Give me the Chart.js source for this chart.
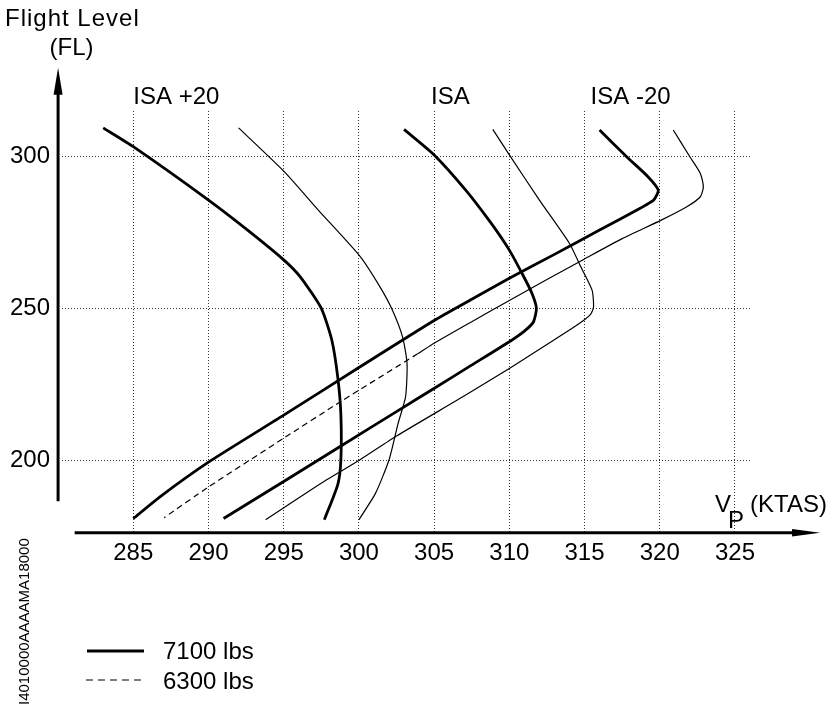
<!DOCTYPE html>
<html>
<head>
<meta charset="utf-8">
<script src="https://cdn.jsdelivr.net/npm/chart.js@4.4.1/dist/chart.umd.min.js"></script>
<style>
html,body{margin:0;padding:0;background:#ffffff;}
canvas{display:block;}
</style>
</head>
<body>
<canvas id="c" width="839" height="714"></canvas>
<script>
// ---------- DATA ----------
const xTicks = [285, 290, 295, 300, 305, 310, 315, 320, 325];
const yTicks = [200, 250, 300];

const tempLabels = ['ISA +20', 'ISA', 'ISA -20'];
const weightLabels = ['7100 lbs', '6300 lbs'];

// ISA +20
const isaP20_7100_kt = [283.0, 285.0, 290.0, 292.6, 295.0, 296.1, 297.5, 298.2, 298.6, 298.8, 298.8, 298.6, 297.7];
const isaP20_7100_fl = [309.5, 303.3, 285.7, 275.8, 266.0, 260.4, 250.0, 239.5, 227.0, 215.0, 200.0, 192.0, 180.3];
const isaP20_6300_kt = [292.0, 295.05, 297.3, 300.1, 301.4, 302.2, 302.9, 303.2, 303.1, 302.6, 302.0, 301.1, 300.0];
const isaP20_6300_fl = [309.5, 295.0, 282.4, 267.0, 257.1, 249.7, 240.6, 231.8, 220.8, 212.0, 200.0, 189.0, 180.3];

// ISA
const isa_7100_kt = [303.0, 305.0, 307.1, 308.8, 310.0, 310.9, 311.5, 311.8, 311.6, 311.0, 310.0, 307.3, 304.8, 302.9, 298.7, 295.0, 291.0];
const isa_7100_fl = [309.0, 300.6, 289.0, 278.0, 269.2, 261.0, 255.0, 250.0, 245.5, 242.5, 239.0, 230.7, 223.0, 217.2, 204.3, 192.9, 180.7];
const isa_6300_kt = [308.9, 310.0, 312.0, 314.0, 314.75, 315.5, 315.6, 315.4, 314.65, 312.6, 310.0, 307.1, 302.5, 300.05, 297.8, 293.8];
const isa_6300_fl = [309.0, 300.6, 285.7, 271.4, 263.7, 256.0, 250.5, 248.0, 245.0, 238.4, 230.2, 221.4, 207.9, 200.0, 193.3, 180.3];

// ISA -20
const isaM20_7100_kt = [316.0, 317.8, 319.2, 319.9, 319.6, 318.7, 316.0, 313.0, 310.0, 307.5, 305.0, 300.0, 295.0, 290.0, 286.75, 285.0];
const isaM20_7100_fl = [308.8, 300.0, 293.5, 289.0, 285.7, 283.0, 275.8, 267.8, 259.9, 253.0, 246.0, 230.5, 214.8, 199.3, 187.8, 180.7];
const isaM20_6300_kt = [320.9, 322.0, 322.7, 322.9, 322.7, 321.8, 320.1, 317.5, 315.0, 312.5, 310.0, 307.5, 305.0, 303.9, 298.8, 295.0, 290.0, 287.05];
const isaM20_6300_fl = [308.8, 300.0, 294.5, 290.1, 286.8, 283.5, 279.1, 273.0, 266.3, 259.5, 252.6, 245.6, 238.5, 235.0, 219.3, 207.2, 191.1, 181.0];

// ---------- BUILD ----------
const FONT = '"Liberation Sans", Arial, Helvetica, sans-serif';
const pts = (kt, fl) => kt.map((v, i) => ({ x: v, y: fl[i] }));
const THICK = 2.8, THIN = 1.2;
const DASH_FROM_FL = 235.05;

function curve(label, kt, fl, width, extra) {
  return Object.assign({
    label: label,
    data: pts(kt, fl),
    showLine: true,
    borderColor: '#000',
    backgroundColor: '#000',
    borderWidth: width,
    pointRadius: 0,
    tension: 0.2,
    fill: false,
    borderCapStyle: 'butt',
    borderJoinStyle: 'round'
  }, extra || {});
}

const datasets = [
  curve(tempLabels[0] + ' ' + weightLabels[0], isaP20_7100_kt, isaP20_7100_fl, THICK),
  curve(tempLabels[0] + ' ' + weightLabels[1], isaP20_6300_kt, isaP20_6300_fl, THIN),
  curve(tempLabels[1] + ' ' + weightLabels[0], isa_7100_kt, isa_7100_fl, THICK),
  curve(tempLabels[1] + ' ' + weightLabels[1], isa_6300_kt, isa_6300_fl, THIN),
  curve(tempLabels[2] + ' ' + weightLabels[0], isaM20_7100_kt, isaM20_7100_fl, THICK),
  curve(tempLabels[2] + ' ' + weightLabels[1], isaM20_6300_kt, isaM20_6300_fl, THIN, {
    segment: { borderDash: c => (c.p0.parsed.y <= DASH_FROM_FL ? [6, 4] : undefined) }
  })
];

const decor = {
  id: 'decor',
  afterDraw(chart) {
    const ctx = chart.ctx;
    const xs = chart.scales.x, ys = chart.scales.y;
    ctx.save();
    ctx.fillStyle = '#000';
    ctx.strokeStyle = '#000';

    // Y axis with arrow
    const ax = xs.getPixelForValue(280);
    const yTop = ys.getPixelForValue(329.3);
    const yBot = ys.getPixelForValue(186.4);
    ctx.lineWidth = 3;
    ctx.beginPath(); ctx.moveTo(ax, yBot); ctx.lineTo(ax, yTop + 20); ctx.stroke();
    ctx.beginPath(); ctx.moveTo(ax, yTop); ctx.lineTo(ax - 4.5, yTop + 27); ctx.lineTo(ax + 4.5, yTop + 27); ctx.closePath(); ctx.fill();

    // X axis with arrow
    const ay = ys.getPixelForValue(176);
    const xL = xs.getPixelForValue(281.1);
    const xR = xs.getPixelForValue(330.66);
    ctx.beginPath(); ctx.moveTo(xL, ay); ctx.lineTo(xR - 20, ay); ctx.stroke();
    ctx.beginPath(); ctx.moveTo(xR, ay); ctx.lineTo(xR - 28, ay - 3.8); ctx.lineTo(xR - 28, ay + 3.8); ctx.closePath(); ctx.fill();

    // Axis titles
    ctx.textBaseline = 'alphabetic';
    ctx.textAlign = 'left';
    ctx.font = '24px ' + FONT;
    if ('letterSpacing' in ctx) ctx.letterSpacing = '1px';
    ctx.fillText('Flight Level', 5, 26);
    if ('letterSpacing' in ctx) ctx.letterSpacing = '0px';
    ctx.textAlign = 'center';
    ctx.fillText('(FL)', 71.5, 55);
    ctx.textAlign = 'left';
    ctx.fillText('V', 715, 512);
    ctx.fillText('P', 728, 528);
    ctx.fillText('(KTAS)', 750, 512);

    // Temperature labels
    const labY = ys.getPixelForValue(317.5);
    ctx.fillText(tempLabels[0], xs.getPixelForValue(285.0), labY);
    ctx.fillText(tempLabels[1], xs.getPixelForValue(304.8), labY);
    ctx.fillText(tempLabels[2], xs.getPixelForValue(315.4), labY);

    // Legend
    ctx.lineWidth = THICK;
    ctx.beginPath(); ctx.moveTo(87, 651); ctx.lineTo(144, 651); ctx.stroke();
    ctx.lineWidth = THIN;
    ctx.setLineDash([7, 5]);
    ctx.beginPath(); ctx.moveTo(86, 680); ctx.lineTo(143, 680); ctx.stroke();
    ctx.setLineDash([]);
    ctx.font = '24px ' + FONT;
    ctx.fillText(weightLabels[0], 163, 659);
    ctx.fillText(weightLabels[1], 163, 689);

    // Rotated figure code
    ctx.save();
    ctx.translate(29, 705);
    ctx.rotate(-Math.PI / 2);
    ctx.font = '15px ' + FONT;
    ctx.textAlign = 'left';
    ctx.fillText('I4010000AAAAMA18000', 0, 0);
    ctx.restore();

    ctx.restore();
  }
};

new Chart(document.getElementById('c'), {
  type: 'scatter',
  data: { datasets: datasets },
  options: {
    responsive: false,
    animation: false,
    events: [],
    devicePixelRatio: 1,
    layout: { padding: { left: 10, right: 89, top: 111, bottom: 141.5 } },
    plugins: { legend: { display: false }, tooltip: { enabled: false } },
    scales: {
      x: {
        type: 'linear',
        min: 280.26,
        max: 326.0,
        afterBuildTicks: a => { a.ticks = xTicks.map(v => ({ value: v })); },
        afterFit: s => { s.height = 40; },
        grid: { color: '#333', lineWidth: 1, drawTicks: false },
        border: { display: false, dash: [1, 2] },
        ticks: { color: '#000', font: { family: FONT, size: 24 }, padding: 6, maxRotation: 0, autoSkip: false }
      },
      y: {
        type: 'linear',
        min: 176.1,
        max: 315.07,
        afterBuildTicks: a => { a.ticks = yTicks.map(v => ({ value: v })); },
        afterFit: s => { s.width = 52; },
        grid: { color: '#333', lineWidth: 1, drawTicks: false },
        border: { display: false, dash: [1, 2] },
        ticks: { color: '#000', font: { family: FONT, size: 24 }, padding: 12 }
      }
    }
  },
  plugins: [decor]
});
</script>
</body>
</html>
